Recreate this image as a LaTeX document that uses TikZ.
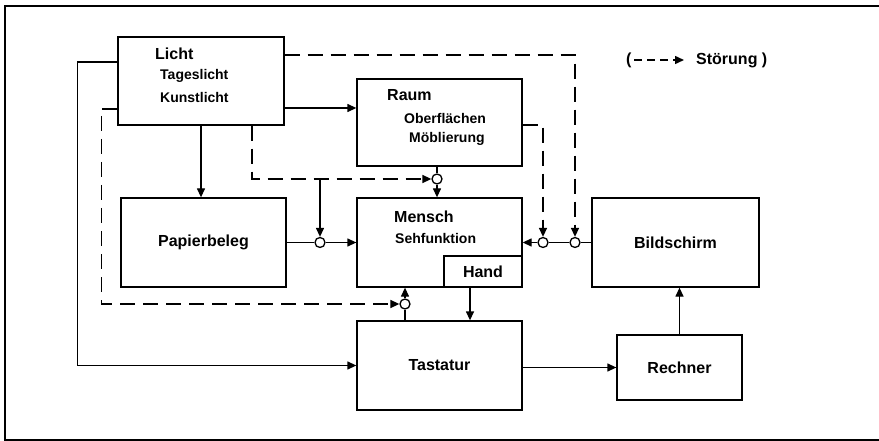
\documentclass[tikz,border=0pt]{standalone}
\usepackage{fontspec}
\setmainfont{Liberation Sans}
\usetikzlibrary{positioning, arrows.meta, calc}

\begin{document}
\begin{tikzpicture}[x=1pt, y=-1pt,
	box/.style={draw, line width=1.3pt, inner sep=0pt, font=\fontsize{16}{18}\selectfont\bfseries},
	headtxt/.style={anchor=west, inner sep=0pt, font=\fontsize{16}{18}\selectfont\bfseries},
	subtxt/.style={anchor=west, inner sep=0pt, font=\fontsize{14}{16}\selectfont\bfseries},
	junction/.style={draw, circle, line width=1.3pt, fill=white, minimum size=10pt, inner sep=0pt},
	link/.style={line width=1.3pt},
	flow/.style={link, -{Triangle[length=9pt,width=8pt]}},
	stoer/.style={line width=1.5pt, dash pattern=on 15pt off 8pt}]
	\useasboundingbox (0,0) rectangle (879,441);
	% frame
	\draw[line width=2.5pt] (879,6) -- (5,6) -- (5,440) -- (879,440);

	% boxes
	\node[box, minimum width=166, minimum height=88] (licht) at (201,81) {};
	\node[box, minimum width=165, minimum height=87] (raum) at (439.5,122.5) {};
	\node[box, minimum width=165, minimum height=89] (papier) at (203.5,242.5) {Papierbeleg};
	\node[box, minimum width=165, minimum height=89] (mensch) at (439.5,242.5) {};
	\node[box, minimum width=78, minimum height=31] (hand) at (483,271.5) {Hand};
	\node[box, minimum width=167, minimum height=89] (bild) at (675.5,242.5) {Bildschirm};
	\node[box, minimum width=165, minimum height=89] (tast) at (439.5,365.5) {Tastatur};
	\node[box, minimum width=125, minimum height=65] (rechner) at (679.5,367.5) {Rechner};

	% texts in the boxes
	\node[headtxt] (lichtT) at (155,54) {Licht};
	\node[subtxt] (lichtA) at (160,76) {Tageslicht};
	\node[subtxt] (lichtB) at (160,97) {Kunstlicht};
	\node[headtxt] (raumT) at (387,95) {Raum};
	\node[subtxt] (raumA) at (404,118) {Oberflächen};
	\node[subtxt] (raumB) at (409,139) {Möblierung};
	\node[headtxt] (menschT) at (394,217) {Mensch};
	\node[subtxt] (menschA) at (395,238) {Sehfunktion};

	% junctions
	\node[junction] (c1) at (437,179) {};
	\node[junction] (c2) at (320,242.5) {};
	\node[junction] (c3) at (405,304) {};
	\node[junction] (c4) at (543,242.5) {};
	\node[junction] (c5) at (575,242.5) {};

	% solid connectors
	\draw[flow] (licht.south) -- (licht.south |- papier.north);
	\draw[flow] ([yshift=-27pt]licht.east) -- ([yshift=-27pt]licht.east -| raum.west);
	\draw[flow] ([yshift=19pt]licht.west) -- ++(-40,0) |- (tast.west);
	\draw[link] (raum.south -| c1) -- (c1.north);
	\draw[flow] (c1.south) -- (c1 |- mensch.north);
	\draw[flow] (c2 |- c1) -- (c2.north);
	\draw[link] (papier.east) -- (c2.west);
	\draw[flow] (c2.east) -- (mensch.west);
	\draw[link] (bild.west) -- (c5.east);
	\draw[link] (c5.west) -- (c4.east);
	\draw[flow] (c4.west) -- (mensch.east);
	\draw[link] (tast.north -| c3) -- (c3.south);
	\draw[flow] (c3.north) -- (c3 |- mensch.south);
	\draw[flow] ([xshift=-13pt]hand.south) -- ([xshift=-13pt]hand.south |- tast.north);
	\draw[flow] (tast.east |- rechner) -- (rechner.west);
	\draw[flow] (rechner.north) -- (rechner.north |- bild.south);

	% Stoerungen
	\draw[stoer, -{Triangle[length=9pt,width=8pt]}] ([yshift=26pt]licht.east) -| (c5.north);
	\draw[stoer, -{Triangle[length=9pt,width=8pt]}] ([yshift=-2.5pt]raum.east) -| (c4.north);
	\draw[stoer, -{Triangle[length=9pt,width=8pt]}] ([xshift=51pt]licht.south) |- (c1.west);
	\draw[stoer, -{Triangle[length=9pt,width=8pt]}] ([yshift=-28pt]licht.west) -- ++(-16,0) |- (c3.west);

	% legend
	\node[headtxt] (lgOpen) at (626,60) {(};
	\coordinate (lgA) at (634,60);
	\coordinate (lgB) at (684,60);
	\node[headtxt] (lgText) at (696,60) {Störung )};
	\draw[line width=1.5pt, dash pattern=on 8pt off 5pt, -{Triangle[length=9pt,width=8pt]}] (lgA) -- (lgB);
\end{tikzpicture}
\end{document}
